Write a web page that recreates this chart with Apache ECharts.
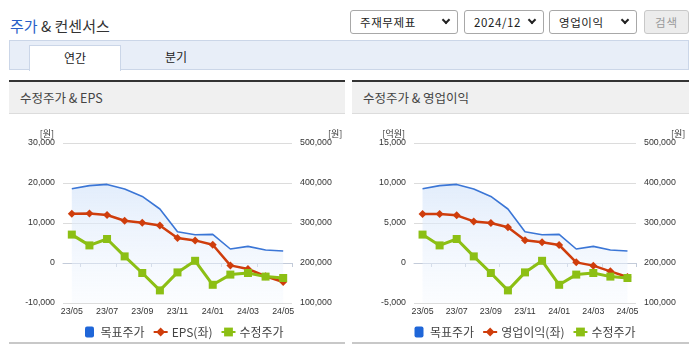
<!DOCTYPE html>
<html>
<head>
<meta charset="utf-8">
<script src="https://cdn.jsdelivr.net/npm/echarts/dist/echarts.min.js"></script>
<style>
  html,body{margin:0;padding:0;}
  body{width:695px;height:349px;overflow:hidden;background:#fff;position:relative;
       font-family:"Noto Sans CJK KR","Noto Sans",sans-serif;color:#333;}
  .abs{position:absolute;}
  .title{left:10px;top:15px;font-size:15px;line-height:22px;color:#333;white-space:nowrap;}
  .title .blue{color:#2a5fc8;}
  .sel{top:10px;height:22px;border:1px solid #a8a8a8;border-radius:3px;background:#fff;
       font-size:11.5px;line-height:22px;color:#222;box-sizing:content-box;}
  .sel span{position:absolute;left:9px;top:0;white-space:nowrap;letter-spacing:0.6px;}
  .sel i{position:absolute;top:6px;width:4px;height:4px;border-right:2px solid #222;border-bottom:2px solid #222;transform:rotate(45deg);}
  .btn{left:644px;top:10px;width:43px;height:22px;border:1px solid #c8c8c8;border-radius:3px;background:#ececec;
       color:#9a9a9a;font-size:11.5px;line-height:22px;text-align:center;letter-spacing:1px;}
  .tabbar{left:9px;top:40px;width:678px;height:28px;background:#e8eef8;border:1px solid #cbd6e8;}
  .tab{left:29px;top:45px;width:90px;height:25px;background:#fff;border:1px solid #cbd6e8;border-bottom:none;
       font-size:12px;line-height:24px;text-align:center;color:#222;}
  .tab2{left:160px;top:45px;width:32px;font-size:12px;line-height:24px;text-align:center;color:#222;}
  .phead{top:80px;height:31px;background:#f0f0f0;border-top:2px solid #333;border-bottom:1px solid #dcdcdc;
         font-size:12.5px;line-height:31px;color:#444;}
  .phead span{position:absolute;left:11px;white-space:nowrap;}
  .pfoot{top:342px;height:2px;background:#c8c8c8;}
  .chart{top:113px;height:229px;}
</style>
</head>
<body>
<div class="abs title"><span class="blue">주가</span> &amp; 컨센서스</div>

<div class="abs sel" style="left:350px;width:106px;"><span>주재무제표</span><i style="left:92px"></i></div>
<div class="abs sel" style="left:464px;width:78px;"><span>2024/12</span><i style="left:64px"></i></div>
<div class="abs sel" style="left:549px;width:86px;"><span>영업이익</span><i style="left:72px"></i></div>
<div class="abs btn">검색</div>

<div class="abs tabbar"></div>
<div class="abs tab">연간</div>
<div class="abs tab2">분기</div>

<div class="abs phead" style="left:9px;width:336px;"><span>수정주가 &amp; EPS</span></div>
<div class="abs phead" style="left:352px;width:337px;"><span>수정주가 &amp; 영업이익</span></div>

<div id="c1" class="abs chart" style="left:9px;width:336px;"></div>
<div id="c2" class="abs chart" style="left:352px;width:337px;"></div>

<div class="abs pfoot" style="left:9px;width:336px;"></div>
<div class="abs pfoot" style="left:352px;width:337px;"></div>

<script>
// ---- data ----
const categories = ['23/05','23/06','23/07','23/08','23/09','23/10','23/11','23/12','24/01','24/02','24/03','24/04','24/05'];
const targetPrice = [385500, 393500, 396500, 385000, 366500, 335000, 278000, 270500, 271500, 235000, 241500, 232500, 230000];
const adjPrice    = [271000, 244000, 260000, 216500, 175000, 131500, 176500, 205500, 145500, 171000, 175000, 166000, 162500];
const eps         = [12300, 12400, 12000, 10550, 10050, 9350, 6250, 5650, 4550, -600, -1500, -3300, -4750];
const opProfit    = [6130, 6120, 5960, 5200, 5000, 4460, 2830, 2580, 2250, 80, -330, -1040, -1750];

const epsTicks   = [-10000, 0, 10000, 20000, 30000];
const opTicks    = [-5000, 0, 5000, 10000, 15000];
const priceTicks = [100000, 200000, 300000, 400000, 500000];

const legendNamesEps = ['목표주가', 'EPS(좌)', '수정주가'];
const legendNamesOp  = ['목표주가', '영업이익(좌)', '수정주가'];
const leftUnitEps = '[원]';
const leftUnitOp  = '[억원]';
const rightUnit   = '[원]';

const C_BLUE = '#3b76d6', C_RED = '#cf3d0c', C_GREEN = '#8cbf14';
const AX_FONT = {fontSize: 8.8, color: '#333', fontFamily: 'Liberation Sans, Arial, sans-serif'};

function makeOption(cfg) {
  const lt = cfg.leftTicks;
  return {
    animation: false,
    textStyle: {fontFamily: 'Noto Sans CJK KR, sans-serif'},
    grid: {left: cfg.gridLeft, top: 30, width: cfg.gridWidth, height: 160, containLabel: false, outerBoundsMode: 'none'},
    legend: {
      left: cfg.legendLeft, top: 208, itemWidth: 14, itemHeight: 11, itemGap: 8,
      textStyle: {fontSize: 12, color: '#444', fontFamily: 'Noto Sans CJK KR, sans-serif', padding: [0,0,0,-1]},
      selectedMode: false,
      data: [
        {name: cfg.legend[0], icon: 'path://M2,0H7A2,2,0,0,1,9,2V9A2,2,0,0,1,7,11H2A2,2,0,0,1,0,9V2A2,2,0,0,1,2,0Z', itemStyle: {color: '#1f66d8'}},
        {name: cfg.legend[1]},
        {name: cfg.legend[2]}
      ]
    },
    xAxis: {
      type: 'category', data: categories, boundaryGap: true,
      axisLine: {lineStyle: {color: '#c3cbd9', width: 1}},
      axisTick: {show: true, length: 4, interval: (i) => i % 2 === 1, lineStyle: {color: '#c3cbd9'}},
      axisLabel: Object.assign({interval: 1, margin: 4}, AX_FONT),
      splitLine: {show: false}
    },
    yAxis: [
      {
        type: 'value', position: 'left',
        min: lt[0], max: lt[lt.length-1], interval: lt[1]-lt[0],
        name: cfg.leftUnit, nameLocation: 'end', nameGap: 5,
        nameTextStyle: {align: 'right', verticalAlign: 'bottom', padding: [0, 9, 0, 0], fontSize: 9, color: '#333'},
        axisLine: {show: false}, axisTick: {show: false},
        axisLabel: Object.assign({margin: 8}, AX_FONT),
        splitLine: {show: true, lineStyle: {color: '#dcdcdc', width: 1}}
      },
      {
        type: 'value', position: 'right',
        min: priceTicks[0], max: priceTicks[priceTicks.length-1], interval: priceTicks[1]-priceTicks[0],
        name: rightUnit, nameLocation: 'end', nameGap: 5,
        nameTextStyle: {align: 'left', verticalAlign: 'bottom', padding: [0, 0, 0, cfg.rightNamePad], fontSize: 9, color: '#333'},
        axisLine: {show: false}, axisTick: {show: false},
        axisLabel: Object.assign({margin: 8}, AX_FONT),
        splitLine: {show: false}
      }
    ],
    series: [
      {
        name: cfg.legend[0], type: 'line', yAxisIndex: 1, data: targetPrice,
        showSymbol: false, symbol: 'none', silent: true,
        lineStyle: {color: C_BLUE, width: 1.6},
        itemStyle: {color: '#1f66d8'},
        areaStyle: {
          origin: 'start',
          color: new echarts.graphic.LinearGradient(0, 0, 0, 1, [
            {offset: 0, color: 'rgba(212,228,250,0.95)'},
            {offset: 1, color: 'rgba(244,248,254,0.55)'}
          ])
        },
        z: 1
      },
      {
        name: cfg.legend[1], type: 'line', yAxisIndex: 0, data: cfg.leftData,
        symbol: 'diamond', symbolSize: 8, silent: true,
        lineStyle: {color: C_RED, width: 2.5},
        itemStyle: {color: C_RED},
        z: 3
      },
      {
        name: cfg.legend[2], type: 'line', yAxisIndex: 1, data: adjPrice,
        symbol: 'rect', symbolSize: 8, silent: true,
        lineStyle: {color: C_GREEN, width: 3},
        itemStyle: {color: C_GREEN},
        z: 4
      }
    ]
  };
}

const chart1 = echarts.init(document.getElementById('c1'), null, {renderer: 'canvas'});
chart1.setOption(makeOption({
  leftTicks: epsTicks, leftData: eps, leftUnit: leftUnitEps, legend: legendNamesEps,
  gridLeft: 54, gridWidth: 229, legendLeft: 71, rightNamePad: 36
}));

const chart2 = echarts.init(document.getElementById('c2'), null, {renderer: 'canvas'});
chart2.setOption(makeOption({
  leftTicks: opTicks, leftData: opProfit, leftUnit: leftUnitOp, legend: legendNamesOp,
  gridLeft: 62, gridWidth: 222, legendLeft: 57.5, rightNamePad: 35
}));
</script>
</body>
</html>
